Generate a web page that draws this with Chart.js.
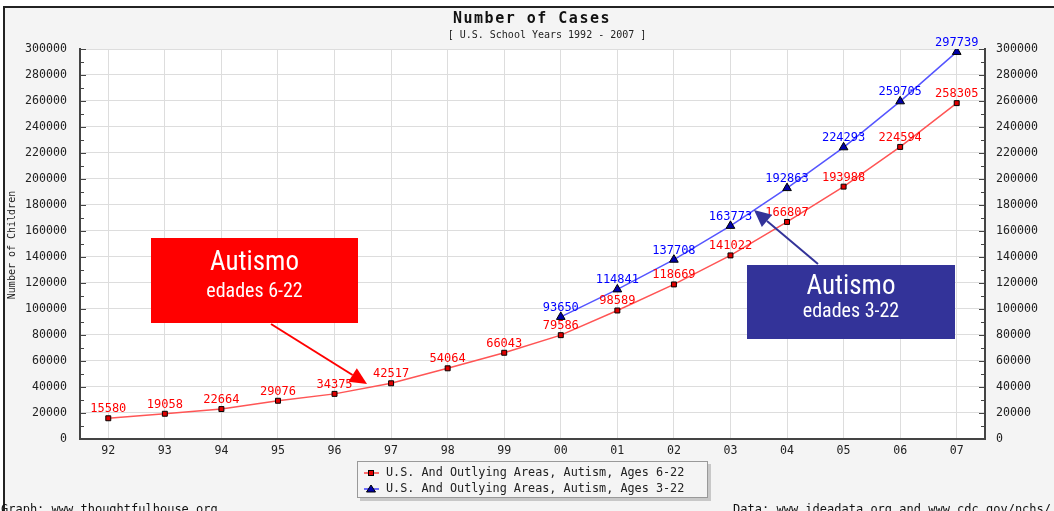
<!DOCTYPE html>
<html>
<head>
<meta charset="utf-8">
<script src="https://cdn.jsdelivr.net/npm/chart.js@4.4.1/dist/chart.umd.min.js"></script>
<style>
  html, body { margin: 0; padding: 0; background: #ffffff; }
  #wrap { width: 1054px; height: 511px; }
</style>
</head>
<body>
<div id="wrap"><canvas id="myChart" width="1054" height="511"></canvas></div>
<script>
const anos = ['92', '93', '94', '95', '96', '97', '98', '99', '00', '01', '02', '03', '04', '05', '06', '07'];
const idades6a22 = [15580, 19058, 22664, 29076, 34375, 42517, 54064, 66043, 79586, 98589, 118669, 141022, 166807, 193988, 224594, 258305];
const idades3a22 = [null, null, null, null, null, null, null, null, 93650, 114841, 137708, 163773, 192863, 224293, 259705, 297739];
const nomes = ['U.S. And Outlying Areas, Autism, Ages 6-22', 'U.S. And Outlying Areas, Autism, Ages 3-22'];
const titulo = 'Number of Cases';
const subtitulo = '[ U.S. School Years 1992 - 2007 ]';

const MONO = '"DejaVu Sans Mono", "Liberation Mono", monospace';
const NARROW = '"Liberation Sans Narrow", "Roboto Condensed", "Liberation Sans", sans-serif';

// fundo, moldura, títulos, legenda e caixas de anotação
const decoracao = {
  id: 'decoracao',
  beforeDraw(chart) {
    const c = chart.ctx;
    const a = chart.chartArea;
    c.save();
    c.fillStyle = '#ffffff';
    c.fillRect(0, 0, chart.width, chart.height);
    c.fillStyle = '#f4f4f4';
    c.fillRect(4, 7, chart.width - 4, chart.height - 7);
    c.strokeStyle = '#222';
    c.lineWidth = 2;
    c.beginPath();
    c.moveTo(4, chart.height);
    c.lineTo(4, 7);
    c.lineTo(chart.width, 7);
    c.stroke();
    c.fillStyle = '#ffffff';
    c.fillRect(a.left, a.top, a.right - a.left, a.bottom - a.top);
    c.restore();
  },
  afterDatasetsDraw(chart) {
    const c = chart.ctx;
    c.save();
    // rótulos dos pontos
    c.font = '12px ' + MONO;
    c.textAlign = 'center';
    c.textBaseline = 'alphabetic';
    chart.data.datasets.forEach((ds, i) => {
      const meta = chart.getDatasetMeta(i);
      c.fillStyle = i === 0 ? '#ff0000' : '#0000ff';
      meta.data.forEach((p, j) => {
        if (ds.data[j] == null) return;
        c.fillText(String(ds.data[j]), p.x, p.y - 6);
      });
    });
    c.restore();
  },
  afterDraw(chart) {
    const c = chart.ctx;
    const a = chart.chartArea;
    c.save();

    // marcas menores e maiores, viradas para dentro
    c.strokeStyle = '#444';
    c.lineWidth = 1;
    const yl = chart.scales.y;
    for (let v = 0; v <= 300000; v += 10000) {
      const y = Math.round(yl.getPixelForValue(v)) + 0.5;
      const len = v % 20000 === 0 ? 6 : 4;
      c.beginPath();
      c.moveTo(a.left, y); c.lineTo(a.left + len, y);
      c.moveTo(a.right, y); c.lineTo(a.right - len, y);
      c.stroke();
    }

    // títulos
    c.fillStyle = '#111';
    c.textAlign = 'center';
    c.textBaseline = 'middle';
    c.font = 'bold 15px ' + MONO;
    c.letterSpacing = '1.5px';
    c.fillText(titulo, 532, 19);
    c.letterSpacing = '0px';
    c.font = '10px ' + MONO;
    c.fillStyle = '#222';
    c.fillText(subtitulo, 547, 35);

    // título do eixo
    c.save();
    c.translate(12, 245);
    c.rotate(-Math.PI / 2);
    c.font = '10px ' + MONO;
    c.fillStyle = '#222';
    c.fillText('Number of Children', 0, 0);
    c.restore();

    // legenda
    c.fillStyle = '#c8c8c8';
    c.fillRect(360, 464, 351, 37);
    c.fillStyle = '#f4f4f4';
    c.fillRect(357, 461, 351, 37);
    c.strokeStyle = '#999';
    c.lineWidth = 1;
    c.strokeRect(357.5, 461.5, 350, 36);
    c.font = '11.8px ' + MONO;
    c.textAlign = 'left';
    const linhas = [473, 489];
    linhas.forEach((ly, i) => {
      c.strokeStyle = i === 0 ? '#ff4040' : '#4040ff';
      c.lineWidth = 1.5;
      c.beginPath(); c.moveTo(364, ly); c.lineTo(379, ly); c.stroke();
      c.lineWidth = 1;
      c.strokeStyle = '#000';
      if (i === 0) {
        c.fillStyle = '#e00000';
        c.fillRect(368.5, ly - 2.5, 5, 5);
        c.strokeRect(368.5, ly - 2.5, 5, 5);
      } else {
        c.fillStyle = '#0000aa';
        c.beginPath(); c.moveTo(371, ly - 4); c.lineTo(375.5, ly + 3); c.lineTo(366.5, ly + 3); c.closePath();
        c.fill(); c.stroke();
      }
      c.fillStyle = '#222';
      c.fillText(nomes[i], 386, ly);
    });

    // rodapé
    c.font = '12px ' + MONO;
    c.fillStyle = '#111';
    c.textBaseline = 'alphabetic';
    c.fillText('Graph: www.thoughtfulhouse.org', 1, 513);
    c.textAlign = 'right';
    c.fillText('Data: www.ideadata.org and www.cdc.gov/nchs/', 1051, 513);

    // caixas de anotação
    const seta = (x1, y1, x2, y2, cor) => {
      const ang = Math.atan2(y2 - y1, x2 - x1);
      const L = 17, W = 8;
      const bx = x2 - L * Math.cos(ang), by = y2 - L * Math.sin(ang);
      c.strokeStyle = cor; c.fillStyle = cor; c.lineWidth = 2;
      c.beginPath(); c.moveTo(x1, y1); c.lineTo(bx, by); c.stroke();
      c.beginPath();
      c.moveTo(x2, y2);
      c.lineTo(bx + W * Math.sin(ang), by - W * Math.cos(ang));
      c.lineTo(bx - W * Math.sin(ang), by + W * Math.cos(ang));
      c.closePath(); c.fill();
    };
    const caixa = (x, y, w, h, cor, t2) => {
      c.fillStyle = cor;
      c.fillRect(x, y, w, h);
      c.fillStyle = '#ffffff';
      c.textAlign = 'center';
      c.textBaseline = 'middle';
      c.font = '27px ' + NARROW;
      c.fillText('Autismo', x + w / 2, y + h * 0.3);
      c.font = '20px ' + NARROW;
      c.fillText(t2, x + w / 2, y + h * 0.63);
    };
    caixa(151, 238, 207, 85, '#ff0000', 'edades 6-22');
    seta(271, 324, 367, 384, '#ff0000');
    caixa(747, 265, 208, 74, '#333399', 'edades 3-22');
    seta(818, 264, 754, 210, '#333399');

    c.restore();
  }
};

const semVirgula = v => String(v);

const ctx = document.getElementById('myChart').getContext('2d');
const grafico = new Chart(ctx, {
  type: 'line',
  data: {
    labels: anos,
    datasets: [
      {
        label: nomes[0],
        data: idades6a22,
        borderColor: '#ff5555',
        borderWidth: 1.5,
        backgroundColor: '#e00000',
        pointStyle: 'rect',
        pointRadius: 3.5,
        pointBorderColor: '#000',
        pointBorderWidth: 1,
        tension: 0
      },
      {
        label: nomes[1],
        data: idades3a22,
        borderColor: '#5555ff',
        borderWidth: 1.5,
        backgroundColor: '#0000aa',
        pointStyle: 'triangle',
        pointRadius: 5,
        pointBorderColor: '#000',
        pointBorderWidth: 1,
        tension: 0,
        spanGaps: false
      }
    ]
  },
  options: {
    responsive: false,
    animation: false,
    events: [],
    layout: { padding: { top: 49, left: 0, right: 0, bottom: 0 } },
    plugins: { legend: { display: false }, title: { display: false }, tooltip: { enabled: false } },
    scales: {
      x: {
        offset: true,
        grid: { color: '#dddddd', drawTicks: false, offset: false },
        border: { color: '#444', width: 2 },
        ticks: { color: '#222', padding: 6, font: { family: MONO, size: 11.6 } },
        afterFit(s) { s.height = 72.5; }
      },
      y: {
        min: 0,
        max: 300000,
        grid: { color: '#dddddd', drawTicks: false },
        border: { color: '#444', width: 2 },
        ticks: { stepSize: 20000, color: '#222', padding: 13, font: { family: MONO, size: 11.6 }, callback: semVirgula },
        afterFit(s) { s.width = 80; }
      },
      y2: {
        position: 'right',
        min: 0,
        max: 300000,
        grid: { drawOnChartArea: false, drawTicks: false },
        border: { color: '#444', width: 2 },
        ticks: { stepSize: 20000, color: '#222', padding: 11, font: { family: MONO, size: 11.6 }, callback: semVirgula },
        afterFit(s) { s.width = 69; }
      }
    }
  },
  plugins: [decoracao]
});
</script>
</body>
</html>
